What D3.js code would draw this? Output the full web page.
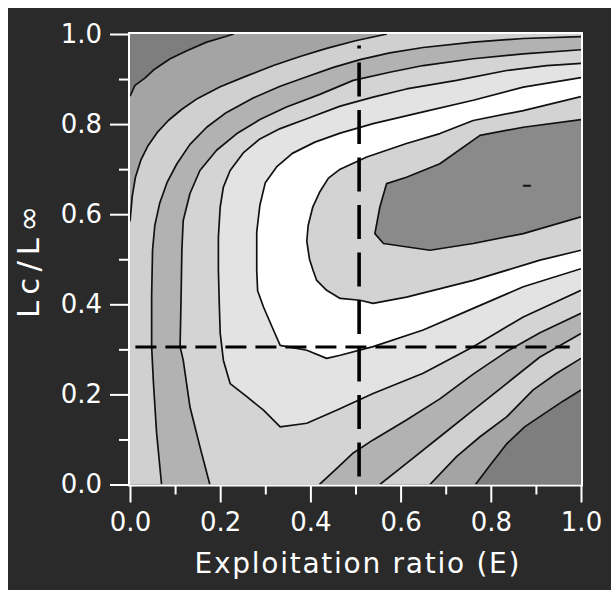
<!DOCTYPE html>
<html><head><meta charset="utf-8">
<script src="https://cdn.jsdelivr.net/npm/d3@7"></script>
<style>html,body{margin:0;padding:0;background:#fff;}svg{display:block}</style>
</head><body>
<script>
// ---------- data ----------
const xTicksMajor = [0, 0.2, 0.4, 0.6, 0.8, 1.0];
const xTicksMinor = [0.1, 0.3, 0.5, 0.7, 0.9];
const yTicksMajor = [0, 0.2, 0.4, 0.6, 0.8, 1.0];
const yTicksMinor = [0.1, 0.3, 0.5, 0.7, 0.9];
const xTitle = "Exploitation ratio (E)";
const yTitle = "Lc/L\u221E";
const refE = 0.508;          // vertical reference line
const refLc = 0.305;         // horizontal reference line
const refEDot = 0.971;       // isolated dot on the vertical line
const refERange = [0.018, 0.937];
const refLcRange = [0.012, 0.975];
const peakMark = [0.88, 0.663];

// isopleth lines [E, Lc], level 1 (lowest) ... level 8 (highest)
const isoA  = [[0,0.862],[0.011,0.886],[0.033,0.902],[0.052,0.92],[0.089,0.945],[0.126,0.963],[0.17,0.982],[0.214,0.995],[0.23,1.0]];
const isoA2 = [[0.766,0],[0.8,0.045],[0.835,0.09],[0.875,0.128],[0.921,0.159],[0.96,0.185],[1.0,0.21]];
const isoB  = [[0,0.584],[0.005,0.64],[0.012,0.682],[0.024,0.72],[0.04,0.752],[0.06,0.781],[0.085,0.808],[0.115,0.833],[0.15,0.857],[0.2,0.883],[0.259,0.907],[0.318,0.93],[0.377,0.95],[0.436,0.968],[0.5,0.985],[0.57,1.0]];
const isoB2 = [[0.665,0],[0.724,0.062],[0.776,0.106],[0.835,0.15],[0.894,0.21],[0.946,0.247],[1.0,0.28]];
const isoC  = [[0.07,0],[0.059,0.114],[0.052,0.225],[0.048,0.306],[0.048,0.42],[0.05,0.52],[0.055,0.575],[0.066,0.625],[0.082,0.67],[0.104,0.712],[0.133,0.755],[0.17,0.793],[0.214,0.826],[0.273,0.858],[0.333,0.884],[0.392,0.905],[0.451,0.926],[0.51,0.943],[0.576,0.958],[0.65,0.97],[0.761,0.982],[0.872,0.99],[1.0,0.994]];
const isoC2 = [[0.554,0],[0.613,0.047],[0.687,0.106],[0.761,0.165],[0.835,0.224],[0.909,0.283],[1.0,0.335]];
const isoD  = [[0.177,0],[0.155,0.084],[0.133,0.172],[0.118,0.276],[0.111,0.306],[0.113,0.4],[0.115,0.52],[0.118,0.586],[0.133,0.646],[0.155,0.697],[0.192,0.742],[0.237,0.779],[0.288,0.81],[0.347,0.838],[0.421,0.866],[0.495,0.897],[0.576,0.915],[0.65,0.93],[0.761,0.945],[0.872,0.956],[1.0,0.965]];
const isoD2 = [[0.42,0],[0.458,0.035],[0.495,0.07],[0.539,0.099],[0.613,0.143],[0.687,0.19],[0.761,0.245],[0.835,0.295],[0.909,0.337],[1.0,0.38]];
const isoE  = [[1.0,0.935],[0.924,0.93],[0.835,0.919],[0.724,0.897],[0.613,0.878],[0.539,0.86],[0.466,0.84],[0.392,0.812],[0.333,0.79],[0.288,0.767],[0.251,0.736],[0.222,0.697],[0.207,0.66],[0.2,0.616],[0.196,0.549],[0.196,0.476],[0.198,0.4],[0.2,0.336],[0.207,0.276],[0.222,0.224],[0.259,0.195],[0.296,0.165],[0.333,0.128],[0.392,0.136],[0.458,0.165],[0.539,0.202],[0.65,0.247],[0.761,0.306],[0.872,0.372],[1.0,0.431]];
const isoF  = [[1.0,0.903],[0.872,0.882],[0.761,0.853],[0.65,0.827],[0.539,0.801],[0.466,0.78],[0.41,0.76],[0.36,0.735],[0.325,0.705],[0.3,0.67],[0.288,0.62],[0.281,0.56],[0.281,0.476],[0.283,0.43],[0.296,0.394],[0.318,0.343],[0.333,0.309],[0.392,0.298],[0.436,0.28],[0.466,0.287],[0.539,0.306],[0.65,0.343],[0.761,0.391],[0.872,0.439],[1.0,0.479]];
const isoG  = [[1.0,0.861],[0.872,0.83],[0.761,0.808],[0.687,0.779],[0.613,0.757],[0.525,0.727],[0.466,0.7],[0.44,0.68],[0.421,0.65],[0.405,0.615],[0.395,0.575],[0.392,0.54],[0.398,0.5],[0.406,0.475],[0.414,0.453],[0.436,0.431],[0.466,0.413],[0.51,0.409],[0.539,0.402],[0.613,0.416],[0.761,0.453],[0.909,0.498],[1.0,0.52]];
const isoH  = [[1.0,0.81],[0.872,0.793],[0.776,0.775],[0.687,0.712],[0.613,0.682],[0.569,0.668],[0.554,0.616],[0.543,0.557],[0.562,0.535],[0.665,0.52],[0.761,0.535],[0.872,0.557],[1.0,0.594]];

// band shades: below level 1, level1..level8
const bandColors = ["#7e7e7e","#a4a4a4","#d0d0d0","#b2b2b2","#d4d4d4","#e3e3e3","#ffffff","#d3d3d3","#8a8a8a"];

// ---------- drawing ----------
const W = 611, H = 599;
const svg = d3.select("body").append("svg").attr("width", W).attr("height", H);
svg.append("rect").attr("x", 8).attr("y", 8).attr("width", W - 8).attr("height", 582).attr("fill", "#2a2a2a");

const x = d3.scaleLinear().domain([0, 1]).range([130, 581]);
const y = d3.scaleLinear().domain([0, 1]).range([484.5, 34]);

svg.append("clipPath").attr("id", "plotclip").append("rect")
  .attr("x", x(0)).attr("y", y(1)).attr("width", x(1) - x(0)).attr("height", y(0) - y(1));

const plot = svg.append("g").attr("clip-path", "url(#plotclip)");
const rev = a => a.slice().reverse();
const corner00 = [0, 0], corner11 = [1, 1];

// superlevel regions, painted from lowest to highest level
const regions = [
  [...isoA, corner11, ...rev(isoA2), corner00],
  [...isoB, corner11, ...rev(isoB2), corner00],
  [...isoC, ...rev(isoC2)],
  [...isoD, ...rev(isoD2)],
  isoE, isoF, isoG, isoH
];
const poly = d3.line().x(d => x(d[0])).y(d => y(d[1]));

plot.append("rect").attr("x", x(0)).attr("y", y(1))
  .attr("width", x(1) - x(0)).attr("height", y(0) - y(1)).attr("fill", bandColors[0]);
plot.selectAll("path.band").data(regions).join("path")
  .attr("class", "band")
  .attr("d", d => poly(d) + "Z")
  .attr("fill", (d, i) => bandColors[i + 1]);

const lines = [isoA, isoA2, isoB, isoB2, isoC, isoC2, isoD, isoD2, isoE, isoF, isoG, isoH];
plot.selectAll("path.iso").data(lines).join("path")
  .attr("class", "iso")
  .attr("d", poly)
  .attr("fill", "none").attr("stroke", "#111").attr("stroke-width", 1.7)
  .attr("stroke-linejoin", "round");

plot.append("line")
  .attr("x1", x(peakMark[0]) - 4).attr("x2", x(peakMark[0]) + 4)
  .attr("y1", y(peakMark[1])).attr("y2", y(peakMark[1]))
  .attr("stroke", "#111").attr("stroke-width", 2);

// reference dashed lines
plot.append("line")
  .attr("x1", x(refLcRange[0])).attr("x2", x(refLcRange[1]))
  .attr("y1", y(refLc)).attr("y2", y(refLc))
  .attr("stroke", "#000").attr("stroke-width", 3).attr("stroke-dasharray", "21,9");
plot.append("line")
  .attr("x1", x(refE)).attr("x2", x(refE))
  .attr("y1", y(refERange[1])).attr("y2", y(refERange[0]))
  .attr("stroke", "#000").attr("stroke-width", 3.6).attr("stroke-dasharray", "34,13.5");
plot.append("line")
  .attr("x1", x(refE)).attr("x2", x(refE))
  .attr("y1", y(refEDot) - 1.5).attr("y2", y(refEDot) + 1.5)
  .attr("stroke", "#000").attr("stroke-width", 3.6);

// plot frame
svg.append("rect").attr("x", x(0) - 1).attr("y", y(1) - 1)
  .attr("width", x(1) - x(0) + 2).attr("height", y(0) - y(1) + 2)
  .attr("fill", "none").attr("stroke", "#fff").attr("stroke-width", 2);

// axes
const font = "'DejaVu Sans', sans-serif";
function styleAxis(g) {
  g.select(".domain").remove();
  g.selectAll("line").attr("stroke", "#fff").attr("stroke-width", 2);
  g.selectAll("text").attr("fill", "#fff").attr("font-family", font).attr("font-size", 26);
}
const fmt = d3.format(".1f");
svg.append("g").attr("transform", `translate(${x(0) - 1},0)`)
  .call(d3.axisLeft(y).tickValues(yTicksMajor).tickSize(19).tickPadding(8).tickFormat(fmt))
  .call(styleAxis);
svg.append("g").attr("transform", `translate(${x(0) - 1},0)`)
  .call(d3.axisLeft(y).tickValues(yTicksMinor).tickSize(10).tickFormat(""))
  .call(styleAxis);
svg.append("g").attr("transform", `translate(0,${y(0) + 1})`)
  .call(d3.axisBottom(x).tickValues(xTicksMajor).tickSize(17).tickPadding(10).tickFormat(fmt))
  .call(styleAxis);
svg.append("g").attr("transform", `translate(0,${y(0) + 1})`)
  .call(d3.axisBottom(x).tickValues(xTicksMinor).tickSize(9).tickFormat(""))
  .call(styleAxis);

// titles
svg.append("text").attr("x", 357).attr("y", 573)
  .attr("text-anchor", "middle").attr("fill", "#fff")
  .attr("font-family", font).attr("font-size", 28)
  .attr("textLength", 325).attr("lengthAdjust", "spacing")
  .text(xTitle);
svg.append("text").attr("transform", "translate(39,262) rotate(-90)")
  .attr("text-anchor", "middle").attr("fill", "#fff")
  .attr("font-family", font).attr("font-size", 31)
  .attr("textLength", 112).attr("lengthAdjust", "spacing")
  .text(yTitle);
</script>
</body></html>
